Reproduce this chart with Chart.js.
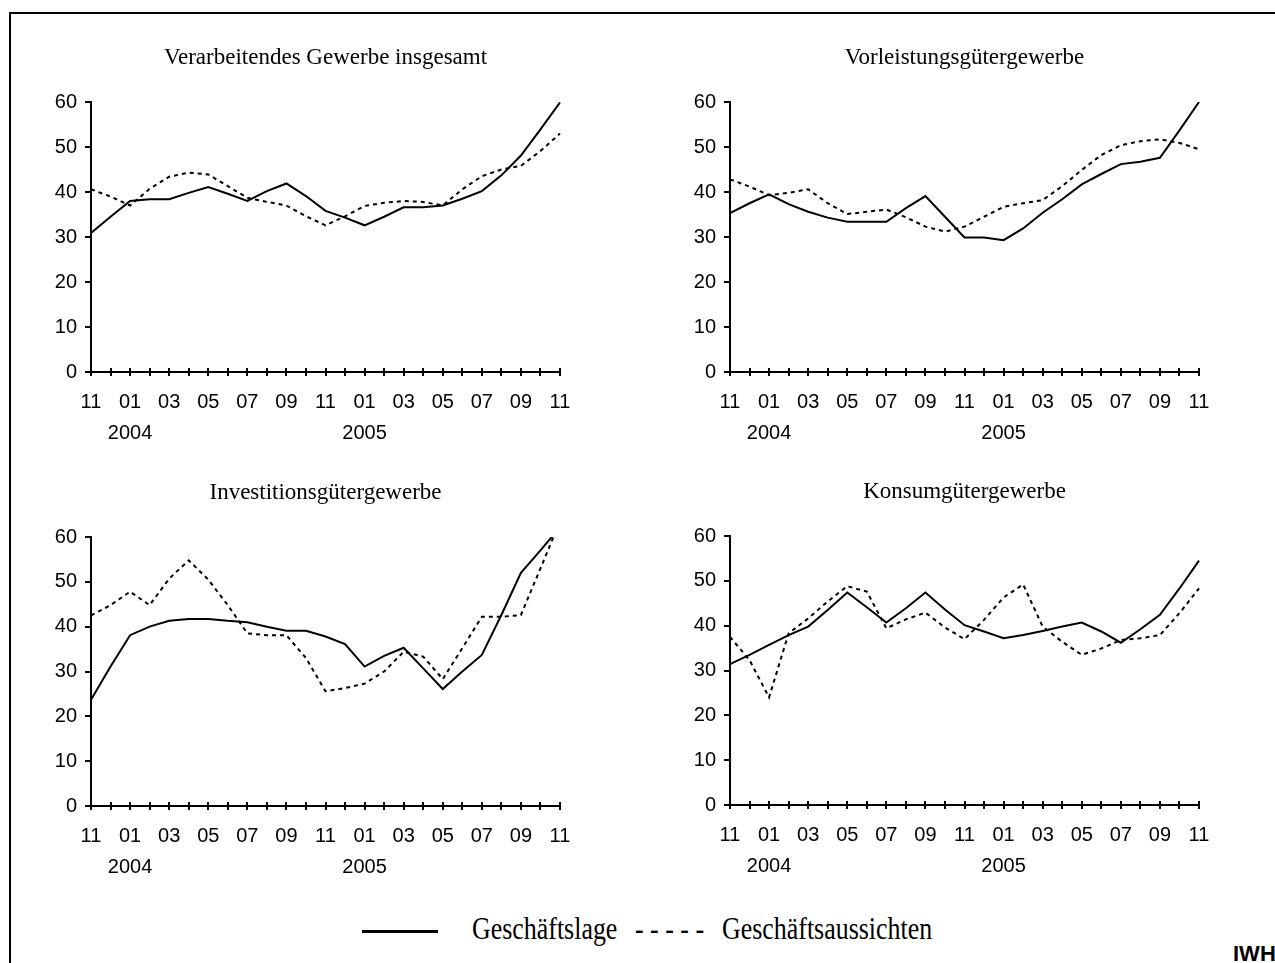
<!DOCTYPE html>
<html>
<head>
<meta charset="utf-8">
<script src="https://cdn.jsdelivr.net/npm/chart.js@4/dist/chart.umd.min.js"></script>
<style>
  html, body { margin: 0; padding: 0; background: #fff; }
  #page { position: relative; width: 1275px; height: 963px; overflow: hidden; background: #fff; }
  #frame { position: absolute; left: 9px; top: 12px; width: 1280px; height: 960px;
           border-left: 2px solid #000; border-top: 2px solid #000; }
  canvas { position: absolute; }
  .lg { position: absolute; font-family: "Liberation Serif", "Times New Roman", serif; font-size: 32px;
        line-height: 32px; color: #000; white-space: nowrap; transform-origin: 0 0; transform: scaleX(0.81); }
  #lgLine { position: absolute; left: 362px; top: 930px; width: 76px; height: 2.5px; background: #000; }
  #iwh { position: absolute; left: 1233px; top: 943px; font: bold 22px "Liberation Sans", Arial, sans-serif;
         line-height: 22px; color: #000; }
</style>
</head>
<body>
<div id="page">
  <div id="frame"></div>
  <canvas id="c1"></canvas>
  <canvas id="c2"></canvas>
  <canvas id="c3"></canvas>
  <canvas id="c4"></canvas>
  <div id="lgLine"></div>
  <div class="lg" style="left:472px; top:912px;">Geschäftslage</div>
  <div class="lg" style="left:635px; top:912px;">- - - - -</div>
  <div class="lg" style="left:722px; top:912px;">Geschäftsaussichten</div>
  <div id="iwh">IWH</div>
</div>
<script>
// months 11/2003 .. 11/2005
var months = ['11','12','01','02','03','04','05','06','07','08','09','10','11',
              '12','01','02','03','04','05','06','07','08','09','10','11'];
var years = ['', '', '2004', '', '', '', '', '', '', '', '', '', '',
             '', '2005', '', '', '', '', '', '', '', '', '', ''];

// Geschaeftslage (solid) / Geschaeftsaussichten (dashed)
var gesamtLage = [30.9, 34.5, 38.0, 38.4, 38.4, 39.8, 41.1, 39.6, 38.0, 40.2, 41.9, 39.1, 35.8,
                  34.3, 32.6, 34.5, 36.6, 36.6, 37.0, 38.5, 40.2, 43.7, 48.1, 53.9, 59.9];
var gesamtAussichten = [40.6, 39.0, 37.0, 40.7, 43.4, 44.3, 43.9, 41.3, 38.7, 37.8, 37.0, 34.6, 32.6,
                        34.6, 36.9, 37.6, 38.0, 37.8, 37.0, 40.6, 43.5, 45.0, 45.8, 49.1, 53.0];

var vorleistungLage = [35.3, 37.5, 39.5, 37.3, 35.6, 34.3, 33.4, 33.4, 33.4, 36.4, 39.1, 34.5, 29.9,
                       29.9, 29.3, 31.9, 35.4, 38.4, 41.7, 44.0, 46.2, 46.7, 47.6, 53.7, 60.0];
var vorleistungAussichten = [42.8, 41.2, 39.3, 39.8, 40.6, 37.5, 35.1, 35.6, 36.1, 34.4, 32.3, 31.2, 32.3,
                             34.5, 36.7, 37.5, 38.2, 41.3, 44.9, 48.2, 50.4, 51.3, 51.7, 50.9, 49.5];

var investLage = [23.7, 31.1, 38.1, 40.0, 41.3, 41.7, 41.7, 41.3, 41.0, 40.0, 39.1, 39.1, 37.8,
                  36.1, 31.1, 33.5, 35.3, 30.7, 26.1, 30.0, 33.7, 42.6, 52.0, 57.0, 62.2];
var investAussichten = [42.5, 44.8, 47.8, 44.8, 50.7, 54.8, 50.5, 44.8, 38.5, 38.1, 38.1, 33.0, 25.6,
                        26.3, 27.3, 30.0, 34.4, 33.3, 28.3, 35.2, 42.2, 42.2, 42.6, 53.0, 63.5];

var konsumLage = [31.4, 33.5, 35.7, 37.9, 39.8, 43.5, 47.4, 44.1, 40.7, 43.9, 47.4, 43.6, 40.1,
                  38.7, 37.2, 37.9, 38.8, 39.8, 40.7, 38.7, 36.2, 39.2, 42.4, 48.3, 54.5];
var konsumAussichten = [37.5, 32.3, 24.0, 38.3, 41.6, 45.4, 48.8, 47.6, 39.4, 41.4, 42.9, 39.6, 37.0,
                        41.3, 46.3, 49.2, 39.8, 36.4, 33.5, 34.9, 36.8, 37.2, 37.9, 42.8, 48.3];

var yMin = 0, yMax = 60, yStep = 10;

// plot rectangles in page pixels
var panels = [
    { id: 'c1', title: 'Verarbeitendes Gewerbe insgesamt', lage: gesamtLage, aus: gesamtAussichten,
      left: 91, right: 560, top: 102, bottom: 372 },
    { id: 'c2', title: 'Vorleistungsgütergewerbe', lage: vorleistungLage, aus: vorleistungAussichten,
      left: 730, right: 1199, top: 102, bottom: 372 },
    { id: 'c3', title: 'Investitionsgütergewerbe', lage: investLage, aus: investAussichten,
      left: 91, right: 560, top: 537, bottom: 806 },
    { id: 'c4', title: 'Konsumgütergewerbe', lage: konsumLage, aus: konsumAussichten,
      left: 730, right: 1199, top: 536, bottom: 805 }
];

Chart.defaults.font.family = '"Liberation Sans", Arial, sans-serif';
Chart.defaults.color = '#000';

// small tick marks crossing the x axis at every month
var crossTicks = {
    id: 'crossTicks',
    afterDraw: function (chart) {
        var x = chart.scales.x, ctx = chart.ctx, y0 = chart.chartArea.bottom;
        ctx.save();
        ctx.strokeStyle = '#000';
        ctx.lineWidth = 2;
        x.ticks.forEach(function (t, i) {
            var px = Math.round(x.getPixelForTick(i));
            ctx.beginPath();
            ctx.moveTo(px, y0 - 4);
            ctx.lineTo(px, y0 + 4);
            ctx.stroke();
        });
        ctx.restore();
    }
};

function buildPanel(p) {
    var yAxisW = 71, xAxisH = 80, padRight = 30;
    var titleSize = 23, titleLine = titleSize * 1.2, titlePadTop = 4;
    var titleCentreGap = 44;

    var cLeft = p.left - yAxisW;
    var cTop = Math.round(p.top - titleCentreGap - titlePadTop - titleLine / 2);
    var titlePadBottom = p.top - cTop - titlePadTop - titleLine;
    var w = p.right + padRight - cLeft;
    var h = p.bottom + xAxisH - cTop;

    var el = document.getElementById(p.id);
    el.width = w;
    el.height = h;
    el.style.left = cLeft + 'px';
    el.style.top = cTop + 'px';
    el.style.width = w + 'px';
    el.style.height = h + 'px';

    return new Chart(el.getContext('2d'), {
        type: 'line',
        data: {
            labels: months,
            datasets: [
                {
                    label: 'Geschäftslage',
                    data: p.lage,
                    borderColor: '#000',
                    borderWidth: 2,
                    pointRadius: 0,
                    tension: 0,
                    fill: false
                },
                {
                    label: 'Geschäftsaussichten',
                    data: p.aus,
                    borderColor: '#000',
                    borderWidth: 2,
                    borderDash: [4, 4],
                    pointRadius: 0,
                    tension: 0,
                    fill: false
                }
            ]
        },
        options: {
            responsive: false,
            animation: false,
            devicePixelRatio: 1,
            layout: { padding: { left: 0, right: padRight, top: 0, bottom: 0 } },
            plugins: {
                legend: { display: false },
                tooltip: { enabled: false },
                title: {
                    display: true,
                    text: p.title,
                    fullSize: false,
                    color: '#000',
                    font: { family: '"Liberation Serif", "Times New Roman", serif', size: titleSize, weight: 'normal', lineHeight: 1.2 },
                    padding: { top: titlePadTop, bottom: titlePadBottom }
                }
            },
            scales: {
                x: {
                    type: 'category',
                    offset: false,
                    afterFit: function (s) { s.height = xAxisH; },
                    grid: { display: false, drawTicks: false },
                    border: { display: true, color: '#000', width: 2 },
                    ticks: {
                        autoSkip: false,
                        maxRotation: 0,
                        padding: 15,
                        color: '#000',
                        font: { size: 20, lineHeight: 1.55 },
                        callback: function (v, i) {
                            if (i % 2) return '';
                            return years[i] ? [months[i], years[i]] : months[i];
                        }
                    }
                },
                y: {
                    min: yMin,
                    max: yMax,
                    afterFit: function (s) { s.width = yAxisW; },
                    grid: { display: true, drawOnChartArea: false, drawTicks: true, tickLength: 6, color: '#000', lineWidth: 2 },
                    border: { display: true, color: '#000', width: 2 },
                    ticks: { stepSize: yStep, padding: 8, color: '#000', font: { size: 20 } }
                }
            }
        },
        plugins: [crossTicks]
    });
}

panels.forEach(buildPanel);
</script>
</body>
</html>
